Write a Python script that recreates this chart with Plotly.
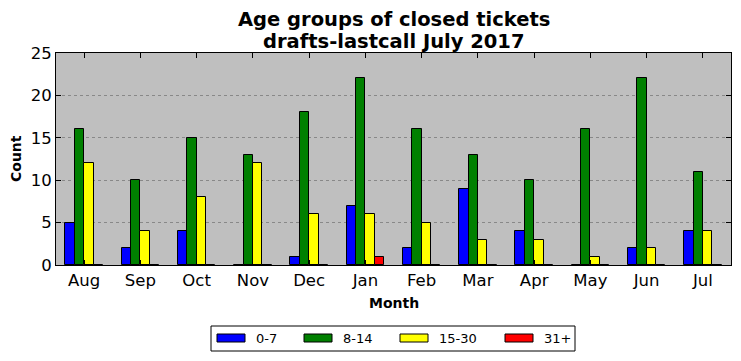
import plotly.graph_objects as go

months = ["Aug", "Sep", "Oct", "Nov", "Dec", "Jan", "Feb", "Mar", "Apr", "May", "Jun", "Jul"]
g0_7 = [5, 2, 4, 0, 1, 7, 2, 9, 4, 0, 2, 4]
g8_14 = [16, 10, 15, 13, 18, 22, 16, 13, 10, 16, 22, 11]
g15_30 = [12, 4, 8, 12, 6, 6, 5, 3, 3, 1, 2, 4]
g31 = [0, 0, 0, 0, 0, 1, 0, 0, 0, 0, 0, 0]
series_names = ["0-7", "8-14", "15-30", "31+"]
series_vals = [g0_7, g8_14, g15_30, g31]
colors = ["#0000ff", "#008000", "#ffff00", "#ff0000"]
title_lines = ["Age groups of closed tickets", "drafts-lastcall July 2017"]

# page body has an 8px margin, so the figure is drawn 8px in from the top-left
OFF = 8
W, H = 741 - OFF, 361 - OFF
L, R, T, B = 56 - OFF, 10, 53 - OFF, 96
pw, ph = W - L - R, H - T - B

bw = 1 / 6
offsets = [-0.25, -1 / 12, 1 / 12, 0.25]
xs = list(range(len(months)))

fig = go.Figure()
for name, vals, c, off in zip(series_names, series_vals, colors, offsets):
    fig.add_trace(go.Bar(
        x=[i + off for i in xs], y=vals, width=bw, name=name,
        marker=dict(color=c, line=dict(color="black", width=1)),
        showlegend=False,
    ))

def px2x(px):
    return (px - OFF - L) / pw

def py2y(py):
    return (H - B - (py - OFF)) / ph

shapes = []
annotations = []
# title, one annotation per line
for line, yc in zip(title_lines, [20, 41]):
    annotations.append(dict(xref="paper", yref="paper", x=0.5, y=py2y(yc),
                            text="<b>" + line + "</b>",
                            showarrow=False, xanchor="center", yanchor="middle",
                            font=dict(family="DejaVu Sans", size=19.5, color="black")))
# axis titles
annotations.append(dict(xref="paper", yref="paper", x=px2x(16), y=py2y(159),
                        text="<b>Count</b>", textangle=-90, showarrow=False,
                        xanchor="center", yanchor="middle",
                        font=dict(family="DejaVu Sans", size=14, color="black")))
annotations.append(dict(xref="paper", yref="paper", x=0.5, y=py2y(303),
                        text="<b>Month</b>", showarrow=False,
                        xanchor="center", yanchor="middle",
                        font=dict(family="DejaVu Sans", size=14, color="black")))
# legend frame
shapes.append(dict(type="rect", xref="paper", yref="paper",
                   x0=px2x(211), x1=px2x(575), y0=py2y(351), y1=py2y(326),
                   line=dict(color="black", width=1), fillcolor="white"))
item_x = [217, 304, 400, 505]
for name, c, ix in zip(series_names, colors, item_x):
    shapes.append(dict(type="rect", xref="paper", yref="paper",
                       x0=px2x(ix), x1=px2x(ix + 28), y0=py2y(342), y1=py2y(334),
                       line=dict(color="black", width=1), fillcolor=c))
    annotations.append(dict(xref="paper", yref="paper", x=px2x(ix + 37), y=py2y(338),
                            text=name, showarrow=False, xanchor="left", yanchor="middle",
                            font=dict(family="DejaVu Sans", size=13, color="black")))

fig.update_layout(
    width=W, height=H,
    margin=dict(l=L, r=R, t=T, b=B, autoexpand=False),
    paper_bgcolor="white", plot_bgcolor="#bfbfbf",
    barmode="overlay", bargap=0,
    font=dict(family="DejaVu Sans", color="black"),
    shapes=shapes, annotations=annotations,
)
fig.update_xaxes(
    range=[-0.5, 11.5], tickmode="array", tickvals=xs, ticktext=months,
    ticks="inside", ticklen=5, tickcolor="black", mirror="ticks",
    showline=True, linecolor="black", linewidth=1, showgrid=False, zeroline=False,
    tickfont=dict(size=16.5), automargin=False,
)
fig.update_yaxes(
    range=[0, 25], tickvals=[0, 5, 10, 15, 20, 25],
    ticks="inside", ticklen=5, tickcolor="black", mirror="ticks",
    showline=True, linecolor="black", linewidth=1,
    showgrid=True, gridcolor="#888888", griddash="dot", gridwidth=1, zeroline=False,
    tickfont=dict(size=16.5), automargin=False,
)

fig.write_html("out.html")
